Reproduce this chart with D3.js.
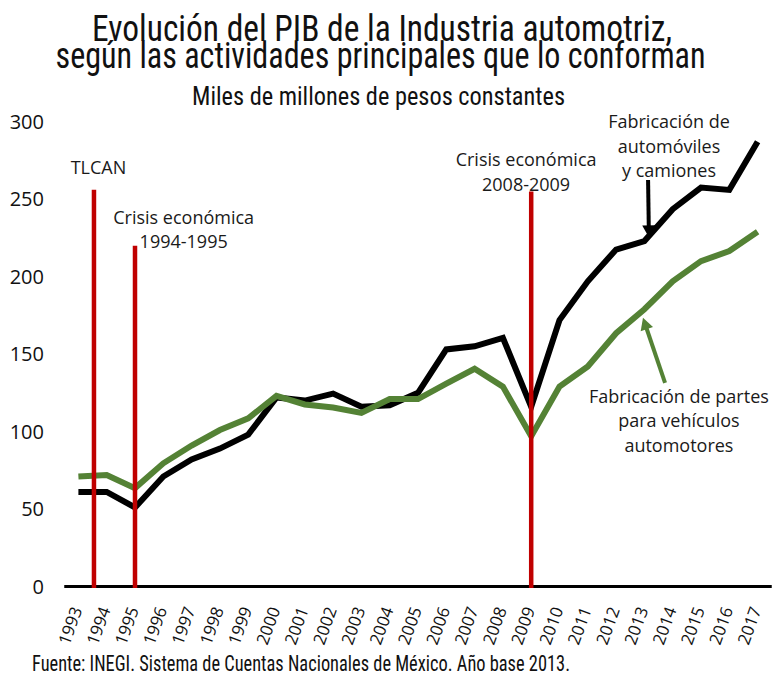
<!DOCTYPE html>
<html>
<head>
<meta charset="utf-8">
<script src="https://cdn.jsdelivr.net/npm/d3@7/dist/d3.min.js"></script>
<style>
  body { margin: 0; background: #fff; }
  svg { display: block; }
</style>
</head>
<body>
<svg id="chart" width="773" height="678"></svg>
<script>
// ---------- data ----------
const years = [1993, 1994, 1995, 1996, 1997, 1998, 1999, 2000, 2001, 2002, 2003, 2004, 2005,
               2006, 2007, 2008, 2009, 2010, 2011, 2012, 2013, 2014, 2015, 2016, 2017];
// Fabricación de automóviles y camiones
const autos = [61, 61, 51, 71, 82, 89, 98, 122, 120, 124.5, 116, 117, 125,
               153, 155, 160.5, 116, 172, 197, 217.5, 223, 243.5, 257.5, 256, 287];
// Fabricación de partes para vehículos automotores
const parts = [71, 72, 63.5, 79.5, 91, 101, 108.5, 123, 117.5, 115.5, 112, 121, 121,
               131, 140.5, 129, 97, 129, 142, 163.5, 179, 197, 210, 216.5, 229];
const yTicks = [0, 50, 100, 150, 200, 250, 300];
// vertical event markers (year position, top value)
const eventYears = [1993.55, 1995, 2009];
const eventTops = [256, 220, 255];

const titleLines = ["Evolución del PIB de la Industria automotriz,",
                    "según las actividades principales que lo conforman"];
const subtitle = "Miles de millones de pesos constantes";
const source = "Fuente: INEGI. Sistema de Cuentas Nacionales de México. Año base 2013.";

// ---------- layout ----------
const svg = d3.select("#chart");
const x = d3.scaleLinear().domain([1993, 2017]).range([78.4, 757.6]);
const y = d3.scaleLinear().domain([0, 300]).range([586.5, 121.7]);

const GREEN = "#548235", RED = "#c00000", BLACK = "#000";
const annoFont = "'Open Sans', 'Noto Sans', sans-serif";
const condFont = "'Liberation Sans Narrow', 'Roboto Condensed', 'Open Sans', sans-serif";

// ---------- titles ----------
const titleSpec = [
  {t: titleLines[0], cx: 382, by: 40.5, size: 36, len: 580},
  {t: titleLines[1], cx: 380.5, by: 68, size: 36, len: 650},
  {t: subtitle, cx: 378.5, by: 105, size: 25, len: 373}
];
svg.selectAll("text.title").data(titleSpec).join("text")
  .attr("class", "title")
  .attr("x", d => d.cx).attr("y", d => d.by)
  .attr("text-anchor", "middle")
  .attr("font-family", condFont)
  .attr("font-size", d => d.size)
  .attr("textLength", d => d.len)
  .attr("lengthAdjust", "spacingAndGlyphs")
  .attr("fill", "#111")
  .text(d => d.t);

// ---------- y tick labels ----------
svg.append("g").selectAll("text").data(yTicks).join("text")
  .attr("x", 44).attr("y", d => y(d))
  .attr("dy", "0.36em")
  .attr("text-anchor", "end")
  .attr("font-family", annoFont)
  .attr("font-size", 20)
  .attr("fill", "#111")
  .text(d => d);

// ---------- x axis ----------
const xAxis = d3.axisBottom(x).tickValues(years).tickFormat(d3.format("d")).tickSize(0).tickPadding(0);
const gx = svg.append("g").attr("transform", `translate(0,${y(0)})`).call(xAxis);
gx.select(".domain").remove();
gx.selectAll(".tick text")
  .attr("font-family", annoFont)
  .attr("font-size", 17)
  .attr("fill", "#111")
  .attr("text-anchor", "end")
  .attr("dy", "0.35em")
  .attr("y", 0)
  .attr("transform", "translate(-2,21) rotate(-70)");

svg.append("line")
  .attr("x1", x(1992.5)).attr("x2", x(2017.5))
  .attr("y1", y(0)).attr("y2", y(0))
  .attr("stroke", BLACK).attr("stroke-width", 3.2);

// ---------- series ----------
const line = d3.line().x((d, i) => x(years[i])).y(d => y(d));
svg.append("path").datum(autos)
  .attr("d", line).attr("fill", "none")
  .attr("stroke", BLACK).attr("stroke-width", 6)
  .attr("stroke-linejoin", "miter");
svg.append("path").datum(parts)
  .attr("d", line).attr("fill", "none")
  .attr("stroke", GREEN).attr("stroke-width", 6)
  .attr("stroke-linejoin", "miter");

// ---------- event lines ----------
svg.append("g").selectAll("line").data(eventYears).join("line")
  .attr("x1", d => x(d)).attr("x2", d => x(d))
  .attr("y1", (d, i) => y(eventTops[i])).attr("y2", y(0) + 1.5)
  .attr("stroke", RED).attr("stroke-width", 4.5);

// ---------- annotation labels ----------
const labels = [
  {lines: ["TLCAN"], cx: 1993.71, base: [266.3]},
  {lines: ["Crisis económica"], cx: 1996.72, base: [234]},
  {lines: ["1994-1995"], cx: 1996.72, base: [218.5]},
  {lines: ["Crisis económica", "2008-2009"], cx: 2008.82, base: [271.5, 255.5]},
  {lines: ["Fabricación de", "automóviles", "y camiones"], cx: 2013.87, base: [296, 280, 264.4]},
  {lines: ["Fabricación de partes", "para vehículos", "automotores"], cx: 2014.22, base: [118.3, 102.8, 87]}
];
const flat = labels.flatMap(l => l.lines.map((t, i) => ({t, cx: l.cx, b: l.base[i]})));
svg.append("g").selectAll("text").data(flat).join("text")
  .attr("x", d => x(d.cx)).attr("y", d => y(d.b))
  .attr("text-anchor", "middle")
  .attr("font-family", annoFont)
  .attr("font-size", 18)
  .attr("fill", "#1a1a1a")
  .text(d => d.t);

// ---------- arrows ----------
const arrows = [
  {from: [2013.13, 262.4], to: [2013.16, 225.3], color: BLACK},
  {from: [2013.73, 131.4], to: [2012.95, 173.4], color: GREEN}
];
arrows.forEach(a => {
  const x1 = x(a.from[0]), y1 = y(a.from[1]);
  const x2 = x(a.to[0]), y2 = y(a.to[1]);
  const dx = x2 - x1, dy = y2 - y1, L = Math.hypot(dx, dy);
  const ux = dx / L, uy = dy / L, px = -uy, py = ux;
  const hl = 12, hw = 6.5;
  const bx = x2 - ux * hl, by = y2 - uy * hl;
  svg.append("line")
    .attr("x1", x1).attr("y1", y1).attr("x2", bx + ux * 1).attr("y2", by + uy * 1)
    .attr("stroke", a.color).attr("stroke-width", 4);
  svg.append("path")
    .attr("d", `M${x2},${y2}L${bx + px * hw},${by + py * hw}L${bx - px * hw},${by - py * hw}Z`)
    .attr("fill", a.color);
});

// ---------- source ----------
svg.append("text")
  .attr("x", 32).attr("y", 671)
  .attr("font-family", condFont)
  .attr("font-size", 22)
  .attr("textLength", 538)
  .attr("lengthAdjust", "spacingAndGlyphs")
  .attr("fill", "#111")
  .text(source);
</script>
</body>
</html>
